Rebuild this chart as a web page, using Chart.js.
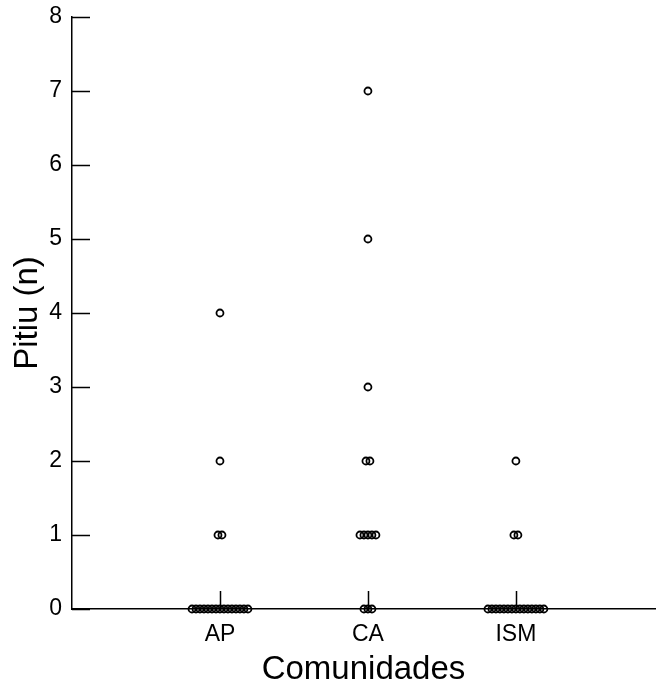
<!DOCTYPE html>
<html><head><meta charset="utf-8">
<script src="https://cdn.jsdelivr.net/npm/chart.js@4/dist/chart.umd.min.js"></script>
<style>html,body{margin:0;padding:0;background:#fff;overflow:hidden}#wrap{width:656px;height:684px;position:relative}canvas{display:block}</style>
</head><body><div id="wrap"><canvas id="c"></canvas></div>
<script>
const categories = ["AP", "CA", "ISM"];
const valuesAP  = [0,0,0,0,0,0,0,0,0,0,0,0,0,0,0, 1,1, 2, 4];
const valuesCA  = [0,0,0, 1,1,1,1,1, 2,2, 3, 5, 7];
const valuesISM = [0,0,0,0,0,0,0,0,0,0,0,0,0,0,0, 1,1, 2];
const yTicks = [0,1,2,3,4,5,6,7,8];

const STEP = 0.027;
function swarm(vals, idx){
  const groups = {};
  vals.forEach(v => { (groups[v] = groups[v] || []).push(v); });
  const pts = [];
  Object.keys(groups).forEach(k => {
    const n = groups[k].length;
    for (let i = 0; i < n; i++) pts.push({x: idx + (i - (n-1)/2) * STEP, y: +k});
  });
  return pts;
}
const allSeries = [valuesAP, valuesCA, valuesISM];
const data = [];
allSeries.forEach((v, i) => data.push(...swarm(v, i + 1)));

const inwardTicks = {
  id: 'inwardTicks',
  afterDraw(chart){
    const ctx = chart.ctx, x = chart.scales.x, y = chart.scales.y;
    ctx.save(); ctx.strokeStyle = '#000'; ctx.lineWidth = 1.5; ctx.beginPath();
    yTicks.forEach(t => { const p = Math.round(y.getPixelForValue(t)) + 0.5; ctx.moveTo(x.left, p); ctx.lineTo(x.left + 18, p); });
    categories.forEach((c, i) => { const p = Math.round(x.getPixelForValue(i+1)) + 0.5; ctx.moveTo(p, y.bottom); ctx.lineTo(p, y.bottom - 18); });
    ctx.stroke(); ctx.restore();
  }
};

new Chart(document.getElementById('c'), {
  type: 'scatter',
  data: { datasets: [{ data, pointStyle: 'circle', radius: 3.5, borderWidth: 1.8, borderColor: '#000', backgroundColor: 'rgba(0,0,0,0)', clip: false }] },
  plugins: [inwardTicks],
  options: {
    responsive: true, maintainAspectRatio: false, animation: false,
    layout: { autoPadding: false, padding: { top: 17, right: 1, left: 0, bottom: 0 } },
    plugins: { legend: { display: false }, tooltip: { enabled: false } },
    scales: {
      x: {
        type: 'linear', min: 0, max: 3.94,
        afterBuildTicks: s => { s.ticks = categories.map((c, i) => ({ value: i + 1 })); },
        afterFit: s => { s.height = 75; s.paddingRight = 0; s.paddingLeft = 0; },
        ticks: { callback: (v) => categories[v - 1] || '', color: '#000', font: { family: 'Liberation Sans, Arial', size: 23 }, padding: 12, maxRotation: 0, autoSkip: false },
        grid: { drawOnChartArea: false, drawTicks: false },
        border: { color: '#000', width: 1.5 },
        title: { display: true, text: 'Comunidades', color: '#000', font: { family: 'Liberation Sans, Arial', size: 33 }, padding: { top: 0, bottom: -6 } }
      },
      y: {
        min: 0, max: 8,
        afterBuildTicks: s => { s.ticks = yTicks.map(v => ({ value: v })); },
        afterFit: s => { s.width = 72; s.paddingTop = 0; s.paddingBottom = 0; },
        ticks: { color: '#000', font: { family: 'Liberation Sans, Arial', size: 23 }, padding: 10 },
        grid: { drawOnChartArea: false, drawTicks: false },
        border: { color: '#000', width: 1.5 },
        title: { display: true, text: 'Pitiu (n)', color: '#000', font: { family: 'Liberation Sans, Arial', size: 33 }, padding: { bottom: 0, top: 8 } }
      }
    }
  }
});
</script></body></html>
